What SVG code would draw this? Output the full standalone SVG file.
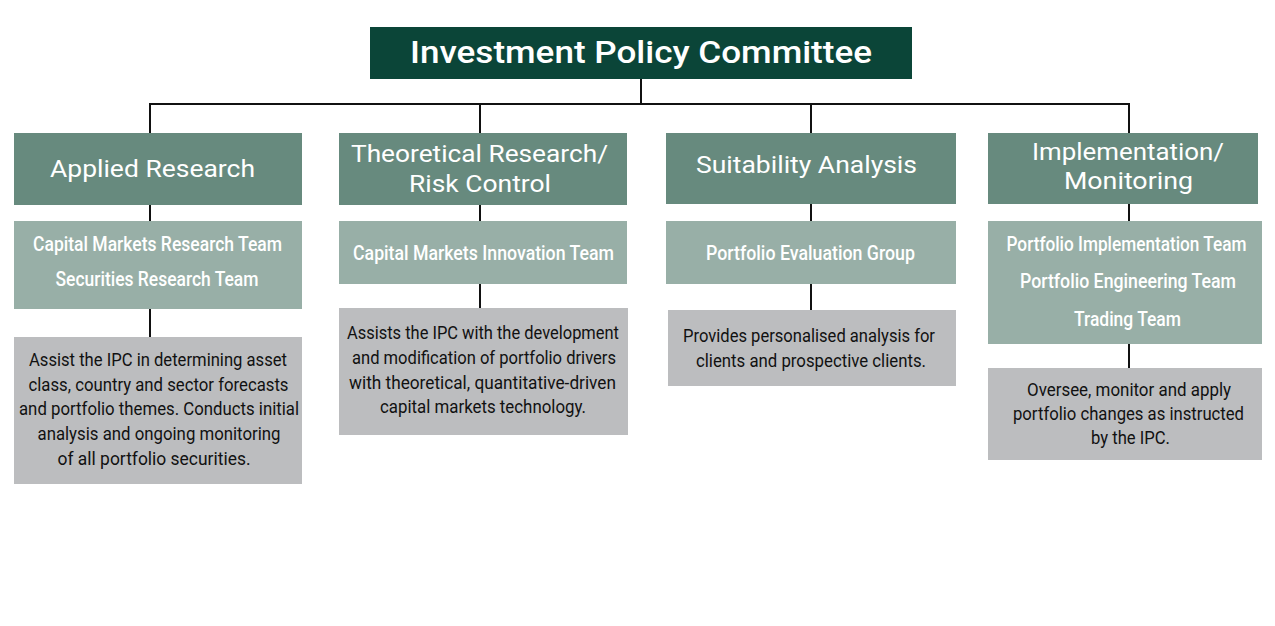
<svg xmlns="http://www.w3.org/2000/svg" width="1275" height="626" viewBox="0 0 1275 626">
<style>
text{font-family:Roboto,"Liberation Sans",sans-serif;text-anchor:middle}
.top{fill:#0b4538}
.hd{fill:#678a7e}
.tm{fill:#98afa7}
.ds{fill:#bcbdbf}
.tt{fill:#fff;font-size:32px;font-weight:500}
.ht{fill:#fff;font-size:24.5px}
.mt{fill:#fff;font-size:20px;font-weight:500}
.dt{fill:#111;font-size:18.5px}
.ln{stroke:#111;stroke-width:2;fill:none}
</style>
<rect width="1275" height="626" fill="#fff"/>
<g id="connectors">
<path class="ln" d="M641 79V104M149 104H1130M150 103V133M480 103V133M811 103V133M1129 103V133"/>
<path class="ln" d="M150 205V221M150 309V337"/>
<path class="ln" d="M480 205V221M480 284V308"/>
<path class="ln" d="M811 204V221M811 284V310"/>
<path class="ln" d="M1129 204V221M1129 344V368"/>
</g>
<g id="ipc">
<rect class="top" x="370" y="27" width="542" height="52"/>
<text class="tt" x="641" y="63" textLength="462" lengthAdjust="spacingAndGlyphs">Investment Policy Committee</text>
</g>
<g id="applied-research">
<rect class="hd" x="14" y="133" width="288" height="72"/>
<text class="ht" x="152.5" y="177" textLength="205" lengthAdjust="spacingAndGlyphs">Applied Research</text>
</g>
<g id="applied-teams">
<rect class="tm" x="14" y="221" width="288" height="88"/>
<text class="mt" x="157.5" y="251" textLength="249" lengthAdjust="spacingAndGlyphs">Capital Markets Research Team</text>
<text class="mt" x="157" y="286" textLength="203" lengthAdjust="spacingAndGlyphs">Securities Research Team</text>
</g>
<g id="applied-desc">
<rect class="ds" x="14" y="337" width="288" height="147"/>
<text class="dt" x="158" y="366" textLength="258" lengthAdjust="spacingAndGlyphs">Assist the IPC in determining asset</text>
<text class="dt" x="158.5" y="391" textLength="260" lengthAdjust="spacingAndGlyphs">class, country and sector forecasts</text>
<text class="dt" x="159" y="415" textLength="280" lengthAdjust="spacingAndGlyphs">and portfolio themes. Conducts initial</text>
<text class="dt" x="159" y="440" textLength="243" lengthAdjust="spacingAndGlyphs">analysis and ongoing monitoring</text>
<text class="dt" x="154" y="465" textLength="193" lengthAdjust="spacingAndGlyphs">of all portfolio securities.</text>
</g>
<g id="theoretical-research">
<rect class="hd" x="339" y="133" width="288" height="72"/>
<text class="ht" x="479.5" y="162" textLength="257" lengthAdjust="spacingAndGlyphs">Theoretical Research/</text>
<text class="ht" x="480" y="192" textLength="142" lengthAdjust="spacingAndGlyphs">Risk Control</text>
</g>
<g id="theoretical-teams">
<rect class="tm" x="339" y="221" width="288" height="63"/>
<text class="mt" x="483.5" y="260" textLength="261" lengthAdjust="spacingAndGlyphs">Capital Markets Innovation Team</text>
</g>
<g id="theoretical-desc">
<rect class="ds" x="339" y="308" width="289" height="127"/>
<text class="dt" x="483" y="339" textLength="272" lengthAdjust="spacingAndGlyphs">Assists the IPC with the development</text>
<text class="dt" x="484" y="364" textLength="264" lengthAdjust="spacingAndGlyphs">and modification of portfolio drivers</text>
<text class="dt" x="482.5" y="389" textLength="267" lengthAdjust="spacingAndGlyphs">with theoretical, quantitative-driven</text>
<text class="dt" x="483" y="413" textLength="206" lengthAdjust="spacingAndGlyphs">capital markets technology.</text>
</g>
<g id="suitability-analysis">
<rect class="hd" x="666" y="133" width="290" height="71"/>
<text class="ht" x="806.5" y="173" textLength="221" lengthAdjust="spacingAndGlyphs">Suitability Analysis</text>
</g>
<g id="suitability-teams">
<rect class="tm" x="666" y="221" width="290" height="63"/>
<text class="mt" x="810.5" y="260" textLength="209" lengthAdjust="spacingAndGlyphs">Portfolio Evaluation Group</text>
</g>
<g id="suitability-desc">
<rect class="ds" x="668" y="310" width="288" height="76"/>
<text class="dt" x="809" y="342" textLength="252" lengthAdjust="spacingAndGlyphs">Provides personalised analysis for</text>
<text class="dt" x="811" y="367" textLength="230" lengthAdjust="spacingAndGlyphs">clients and prospective clients.</text>
</g>
<g id="implementation-monitoring">
<rect class="hd" x="988" y="133" width="270" height="71"/>
<text class="ht" x="1128" y="160" textLength="192" lengthAdjust="spacingAndGlyphs">Implementation/</text>
<text class="ht" x="1128.5" y="189" textLength="129" lengthAdjust="spacingAndGlyphs">Monitoring</text>
</g>
<g id="implementation-teams">
<rect class="tm" x="988" y="221" width="274" height="123"/>
<text class="mt" x="1126.5" y="251" textLength="240" lengthAdjust="spacingAndGlyphs">Portfolio Implementation Team</text>
<text class="mt" x="1128" y="288" textLength="216" lengthAdjust="spacingAndGlyphs">Portfolio Engineering Team</text>
<text class="mt" x="1127.5" y="326" textLength="107" lengthAdjust="spacingAndGlyphs">Trading Team</text>
</g>
<g id="implementation-desc">
<rect class="ds" x="988" y="368" width="274" height="92"/>
<text class="dt" x="1129" y="396" textLength="204" lengthAdjust="spacingAndGlyphs">Oversee, monitor and apply</text>
<text class="dt" x="1128.5" y="420" textLength="231" lengthAdjust="spacingAndGlyphs">portfolio changes as instructed</text>
<text class="dt" x="1130.5" y="444" textLength="79" lengthAdjust="spacingAndGlyphs">by the IPC.</text>
</g>
</svg>
